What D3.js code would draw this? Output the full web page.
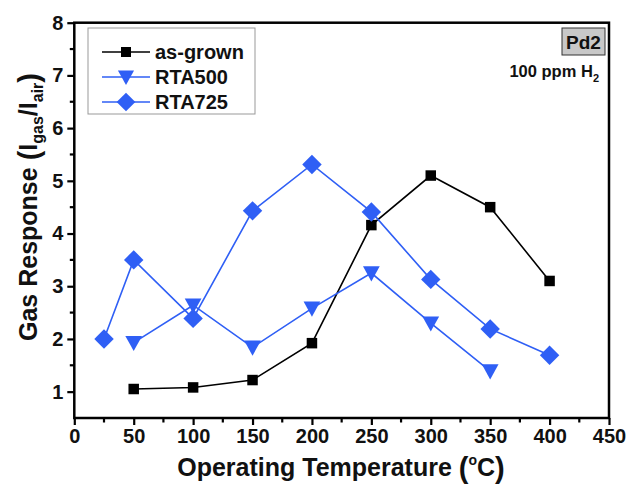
<!DOCTYPE html>
<html>
<head>
<meta charset="utf-8">
<script src="https://cdn.jsdelivr.net/npm/d3@7"></script>
<style>
  html, body { margin: 0; padding: 0; background: #fff; }
  svg { display: block; font-family: "Liberation Sans", Arial, sans-serif; }
</style>
</head>
<body>
<svg id="chart" width="632" height="490"></svg>
<script>
// Gas response vs operating temperature for Pd2 sensors at 100 ppm H2
const tempAsGrown = [50, 100, 150, 200, 250, 300, 350, 400];
const respAsGrown = [1.05, 1.08, 1.22, 1.92, 4.16, 5.10, 4.50, 3.10];

const tempRTA500 = [50, 100, 150, 200, 250, 300, 350];
const respRTA500 = [1.93, 2.64, 1.84, 2.58, 3.25, 2.30, 1.39];

const tempRTA725 = [25, 50, 100, 150, 200, 250, 300, 350, 400];
const respRTA725 = [2.0, 3.5, 2.39, 4.43, 5.31, 4.41, 3.13, 2.19, 1.69];

const seriesNames = ["as-grown", "RTA500", "RTA725"];
const xTicks = [0, 50, 100, 150, 200, 250, 300, 350, 400, 450];
const yTicks = [1, 2, 3, 4, 5, 6, 7, 8];

const blue = "#2f5ff5";
const series = [
  { name: seriesNames[0], xs: tempAsGrown, ys: respAsGrown, color: "#000", shape: "square" },
  { name: seriesNames[1], xs: tempRTA500, ys: respRTA500, color: blue, shape: "triangle" },
  { name: seriesNames[2], xs: tempRTA725, ys: respRTA725, color: blue, shape: "diamond" }
];

const svg = d3.select("#chart");
const plotL = 74.3, plotR = 609, plotT = 22.7, plotB = 418;

const x = d3.scaleLinear().domain([0, 450]).range([plotL, plotR]);
const y = d3.scaleLinear().domain([0.5, 8]).range([plotB, plotT]);

// marker path generators (centered at 0,0)
function markerPath(shape, s) {
  if (shape === "square") {
    const h = s * 0.5;
    return `M${-h},${-h}H${h}V${h}H${-h}Z`;
  }
  if (shape === "triangle") {
    const w = s * 0.62, hUp = s * 0.5, hDn = s * 0.62;
    return `M${-w},${-hUp}H${w}L0,${hDn}Z`;
  }
  const d = s * 0.72;
  return `M0,${-d}L${d},0L0,${d}L${-d},0Z`;
}

// axes
const xAxis = d3.axisBottom(x).tickValues(xTicks).tickSize(7).tickPadding(4).tickFormat(d3.format("d"));
const yAxis = d3.axisLeft(y).tickValues(yTicks).tickSize(7).tickPadding(4).tickFormat(d3.format("d"));

const gx = svg.append("g").attr("transform", `translate(0,${plotB})`).call(xAxis);
const gy = svg.append("g").attr("transform", `translate(${plotL},0)`).call(yAxis);

[gx, gy].forEach(g => {
  g.select(".domain").remove();
  g.selectAll(".tick line").attr("stroke", "#000").attr("stroke-width", 2.2);
  g.selectAll(".tick text")
    .attr("fill", "#111")
    .attr("font-size", 20)
    .attr("font-weight", "bold");
});

// minor ticks
const xMinor = d3.range(25, 450, 50);
svg.append("g").selectAll("line").data(xMinor).join("line")
  .attr("x1", d => x(d)).attr("x2", d => x(d))
  .attr("y1", plotB).attr("y2", plotB + 4.5)
  .attr("stroke", "#000").attr("stroke-width", 2.2);
const yMinor = d3.range(1.5, 8, 1);
svg.append("g").selectAll("line").data(yMinor).join("line")
  .attr("x1", plotL - 4.5).attr("x2", plotL)
  .attr("y1", d => y(d)).attr("y2", d => y(d))
  .attr("stroke", "#000").attr("stroke-width", 2.2);

// frame
svg.append("rect")
  .attr("x", plotL).attr("y", plotT)
  .attr("width", plotR - plotL).attr("height", plotB - plotT)
  .attr("fill", "none").attr("stroke", "#000").attr("stroke-width", 2.5);

// series lines and markers
const line = d3.line().x(d => x(d[0])).y(d => y(d[1]));
series.forEach(s => {
  const pts = s.xs.map((v, i) => [v, s.ys[i]]);
  svg.append("path")
    .datum(pts)
    .attr("d", line)
    .attr("fill", "none")
    .attr("stroke", s.color)
    .attr("stroke-width", 1.6);
  svg.append("g").selectAll("path").data(pts).join("path")
    .attr("transform", d => `translate(${x(d[0])},${y(d[1])})`)
    .attr("d", markerPath(s.shape, s.shape === "square" ? 10.5 : 13.5))
    .attr("fill", s.color);
});

// legend
const lg = svg.append("g");
lg.append("rect")
  .attr("x", 88).attr("y", 28).attr("width", 167).attr("height", 86)
  .attr("fill", "#fff").attr("stroke", "#999").attr("stroke-width", 1);
series.forEach((s, i) => {
  const cy = 52 + i * 25;
  lg.append("line")
    .attr("x1", 102).attr("x2", 150).attr("y1", cy).attr("y2", cy)
    .attr("stroke", s.color).attr("stroke-width", 1.6);
  lg.append("path")
    .attr("transform", `translate(126,${cy})`)
    .attr("d", markerPath(s.shape, s.shape === "square" ? 10 : 13))
    .attr("fill", s.color);
  lg.append("text")
    .attr("x", 155).attr("y", cy + 7)
    .attr("font-size", 20).attr("font-weight", "bold").attr("fill", "#111")
    .text(s.name);
});

// sample tag
svg.append("rect")
  .attr("x", 562).attr("y", 28).attr("width", 43).attr("height", 27)
  .attr("fill", "#c8c8c8").attr("stroke", "#333").attr("stroke-width", 1);
svg.append("text")
  .attr("x", 583.5).attr("y", 48.5)
  .attr("text-anchor", "middle")
  .attr("font-size", 19).attr("font-weight", "bold").attr("fill", "#111")
  .text("Pd2");

const gasText = svg.append("text")
  .attr("x", 599).attr("y", 77)
  .attr("text-anchor", "end")
  .attr("font-size", 16.5).attr("font-weight", "bold").attr("fill", "#111");
gasText.append("tspan").text("100 ppm H");
gasText.append("tspan").attr("font-size", 11).attr("dy", 5).text("2");

// axis titles (parentheses set slightly larger than the words)
const xt = svg.append("text")
  .attr("x", 341).attr("y", 476)
  .attr("text-anchor", "middle")
  .attr("font-size", 25).attr("font-weight", "bold").attr("fill", "#111");
xt.append("tspan").text("Operating Temperature ");
xt.append("tspan").attr("font-size", 29).attr("dy", 1.5).text("(");
xt.append("tspan").attr("font-size", 14).attr("dy", -12.5).text("o");
xt.append("tspan").attr("dy", 11).text("C");
xt.append("tspan").attr("font-size", 29).attr("dy", 1.5).text(")");

const yt = svg.append("text")
  .attr("transform", "translate(37,207) rotate(-90)")
  .attr("text-anchor", "middle")
  .attr("font-size", 25).attr("font-weight", "bold").attr("fill", "#111");
yt.append("tspan").text("Gas Response ");
yt.append("tspan").attr("font-size", 29).attr("dy", 1.5).text("(");
yt.append("tspan").attr("dy", -1.5).text("I");
yt.append("tspan").attr("font-size", 16).attr("dy", 6).text("gas");
yt.append("tspan").attr("dy", -6).text("/I");
yt.append("tspan").attr("font-size", 16).attr("dy", 6).text("air");
yt.append("tspan").attr("font-size", 29).attr("dy", -4.5).text(")");
</script>
</body>
</html>
